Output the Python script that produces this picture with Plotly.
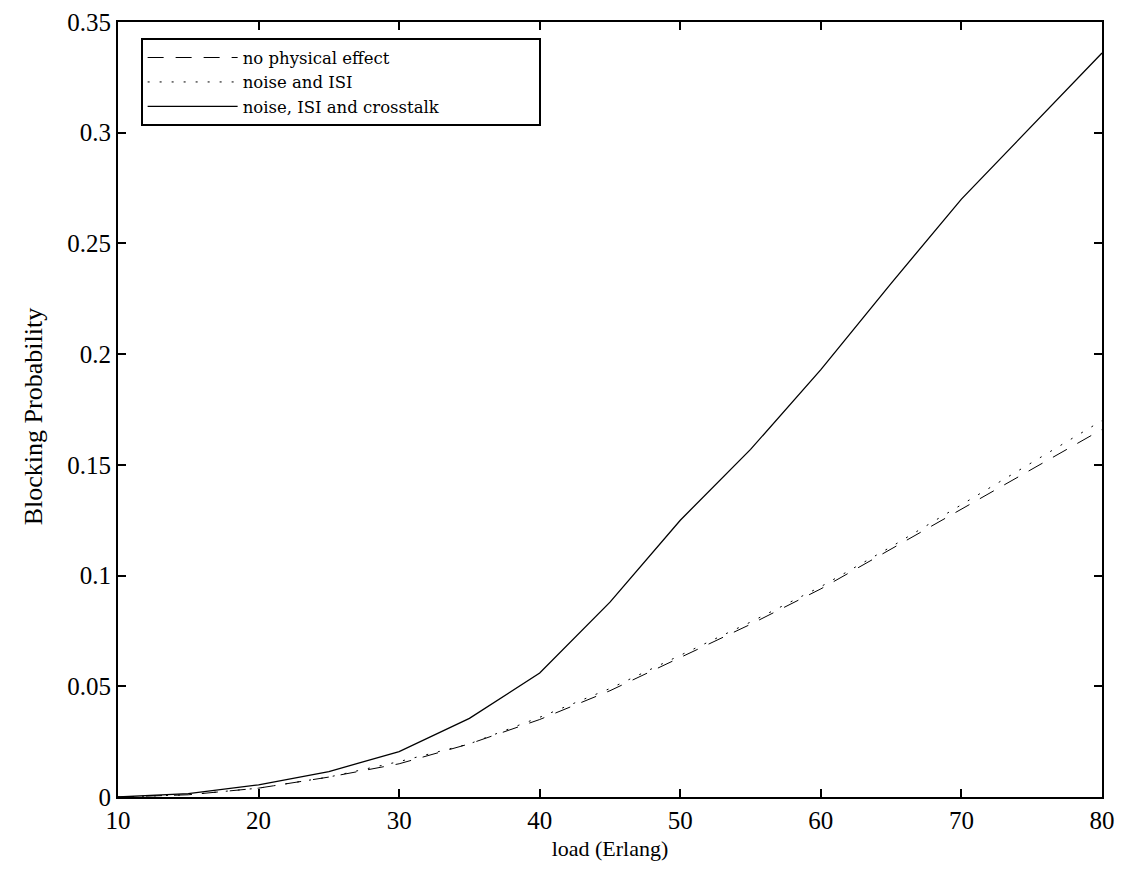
import plotly.graph_objects as go

# Offered load (Erlang)
load = [10, 15, 20, 25, 30, 35, 40, 45, 50, 55, 60, 65, 70, 75, 80]

# Blocking probability for each scenario
no_physical_effect = [0.0, 0.001, 0.004, 0.009, 0.015, 0.024, 0.035, 0.048, 0.063, 0.078, 0.094, 0.112, 0.130, 0.148, 0.166]
noise_and_isi = [0.0, 0.001, 0.004, 0.009, 0.016, 0.024, 0.036, 0.049, 0.064, 0.079, 0.095, 0.113, 0.132, 0.151, 0.170]
noise_isi_crosstalk = [0.0, 0.0015, 0.0055, 0.0115, 0.0205, 0.0355, 0.056, 0.088, 0.125, 0.157, 0.193, 0.232, 0.270, 0.303, 0.336]

x_ticks = [10, 20, 30, 40, 50, 60, 70, 80]
y_ticks = [0, 0.05, 0.1, 0.15, 0.2, 0.25, 0.3, 0.35]
y_tick_text = ["0", "0.05", "0.1", "0.15", "0.2", "0.25", "0.3", "0.35"]

FONT = "Liberation Serif, DejaVu Serif, serif"
WIDE_FONT = "DejaVu Serif, serif"
PAD = "\u00a0" * 18  # keeps the legend box wide to the right of the labels

fig = go.Figure()
fig.add_trace(go.Scatter(x=load, y=no_physical_effect, mode="lines",
                         name="no physical effect",
                         line=dict(color="black", width=1, dash="16px,12px")))
fig.add_trace(go.Scatter(x=load, y=noise_and_isi, mode="lines",
                         name="noise and ISI",
                         line=dict(color="black", width=1, dash="2px,10px")))
fig.add_trace(go.Scatter(x=load, y=noise_isi_crosstalk, mode="lines",
                         name="noise, ISI and crosstalk" + PAD,
                         line=dict(color="black", width=1.3)))

axis_common = dict(
    showgrid=False, zeroline=False, showline=True, linecolor="black", linewidth=2,
    mirror="allticks", ticks="inside", ticklen=8, tickcolor="black", tickwidth=2,
    tickfont=dict(family=FONT, size=25, color="black"), automargin=False,
)

fig.update_xaxes(range=[10, 80], tickvals=x_ticks,
                 title=dict(text="load (Erlang)", font=dict(family=FONT, size=22, color="black"), standoff=8),
                 **axis_common)
fig.update_yaxes(range=[0, 0.35], tickvals=y_ticks, ticktext=y_tick_text, **axis_common)

# Vertical y-axis title placed just inside the left page edge
fig.add_annotation(text="Blocking Probability", textangle=-90,
                   xref="paper", yref="paper", x=0, y=0.49,
                   xanchor="center", yanchor="middle", xshift=-85, showarrow=False,
                   font=dict(family=FONT, size=26, color="black"))

fig.update_layout(
    width=1121, height=874,
    margin=dict(l=118, r=19, t=22, b=77),
    paper_bgcolor="white", plot_bgcolor="white",
    font=dict(family=FONT, size=22, color="black"),
    showlegend=True,
    legend=dict(x=0.023, y=0.979, xanchor="left", yanchor="top",
                bgcolor="white", bordercolor="black", borderwidth=2,
                itemwidth=90, tracegroupgap=0,
                font=dict(family=WIDE_FONT, size=16.5, color="black")),
)

fig.write_html("out.html")
